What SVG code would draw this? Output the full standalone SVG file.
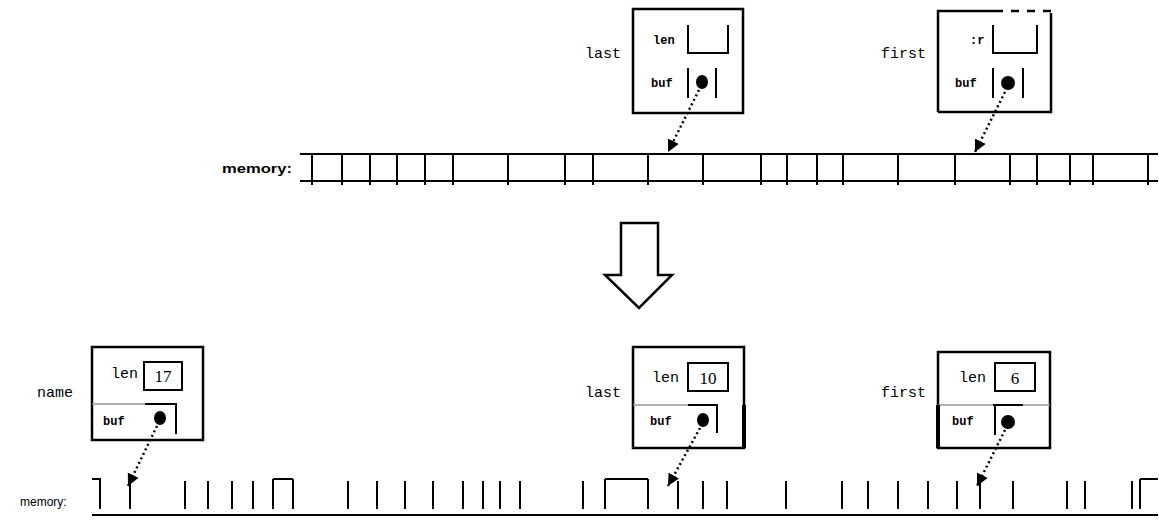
<svg xmlns="http://www.w3.org/2000/svg" width="1159" height="521" viewBox="0 0 1159 521">
<style>
.box{fill:none;stroke:#000;stroke-width:2.5}
.thin{fill:none;stroke:#000;stroke-width:2}
.grey{fill:none;stroke:#999;stroke-width:1.5}
.lbl{font-family:"Liberation Mono",monospace;font-size:15px;fill:#000}
.fld{font-family:"Liberation Mono",monospace;font-size:15px;fill:#000}
.sfld{font-family:"Liberation Mono",monospace;font-size:12px;font-weight:bold;fill:#000}
.num{font-family:"Liberation Serif",serif;font-size:17px;fill:#000}
.mem{fill:none;stroke:#000;stroke-width:2}
.ptr{fill:none;stroke:#000;stroke-width:2.5;stroke-dasharray:2 3}
</style>
<defs>
<marker id="ah" viewBox="0 0 10 10" refX="10" refY="5" markerWidth="12" markerHeight="12" markerUnits="userSpaceOnUse" orient="auto">
<path d="M0,0 L10,5 L0,10 z" fill="#000"/>
</marker>
</defs>
<rect width="1159" height="521" fill="#fff"/>

<!-- top: last -->
<g id="top-last">
<text class="lbl" x="585" y="58">last</text>
<rect class="box" x="633" y="9" width="110" height="104"/>
<text class="sfld" x="653" y="44">len</text>
<path class="thin" d="M688,25 V53 H728 V25"/>
<text class="sfld" x="651" y="87">buf</text>
<path class="thin" d="M688,68 V98 M716,68 V98"/>
<ellipse cx="702" cy="82" rx="6" ry="7" fill="#000"/>
</g>

<!-- top: first -->
<g id="top-first">
<text class="lbl" x="881" y="58">first</text>
<path class="box" d="M938,112 V11 H995"/>
<path class="box" d="M995,11 H1051" stroke-dasharray="8 8"/>
<path class="box" d="M1051,13 V112 H938"/>
<text class="sfld" x="970" y="44">:r</text>
<path class="thin" d="M993,25 V53 H1037 V25"/>
<text class="sfld" x="955" y="87">buf</text>
<path class="thin" d="M993,68 V98 M1023,68 V98"/>
<ellipse cx="1008" cy="83" rx="7" ry="7" fill="#000"/>
</g>

<!-- top memory -->
<g id="top-memory">
<text x="222" y="173" font-family="Liberation Sans, sans-serif" font-size="13" font-weight="bold" textLength="70" lengthAdjust="spacingAndGlyphs">memory:</text>
<path class="mem" d="M300,154 H1158 M300,181 H1158"/>
<path class="mem" d="M312,154V185 M342,154V185 M370,154V185 M397,154V185 M425,154V185 M453,154V185 M508,154V185 M565,154V185 M593,154V185 M648,154V185 M703,154V185 M761,154V185 M787,154V185 M817,154V185 M843,154V185 M898,154V185 M955,154V185 M1010,154V185 M1037,154V185 M1070,154V185 M1093,154V185 M1148,154V185"/>
</g>

<!-- big down arrow -->
<g id="transform-arrow">
<path d="M621,223 H658 V275 H672 L639,308 L605,275 H621 Z" fill="#fff" stroke="#000" stroke-width="2.5"/>
</g>

<!-- bottom: name -->
<g id="bot-name">
<text class="lbl" x="37" y="397">name</text>
<rect class="box" x="92" y="347" width="111" height="93"/>
<text class="fld" x="111" y="378">len</text>
<rect class="thin" x="144" y="362" width="38" height="28"/>
<text class="num" x="163" y="382" text-anchor="middle">17</text>
<path class="grey" d="M92,404 H145"/>
<path class="thin" d="M145,404 H176 V434"/>
<text class="sfld" x="103" y="425">buf</text>
<ellipse cx="160" cy="418" rx="6" ry="7" fill="#000"/>
</g>

<!-- bottom: last -->
<g id="bot-last">
<text class="lbl" x="585" y="397">last</text>
<rect class="box" x="633" y="347" width="111" height="101"/>
<text class="fld" x="652" y="382">len</text>
<rect class="thin" x="688" y="363" width="40" height="28"/>
<text class="num" x="708" y="384" text-anchor="middle">10</text>
<path class="grey" d="M633,405 H688"/>
<path class="thin" d="M688,405 H717 V433"/>
<path d="M744,405 V448" stroke="#000" stroke-width="4"/>
<text class="sfld" x="650" y="425">buf</text>
<ellipse cx="703" cy="420" rx="6" ry="7" fill="#000"/>
</g>

<!-- bottom: first -->
<g id="bot-first">
<text class="lbl" x="881" y="397">first</text>
<rect class="box" x="938" y="352" width="112" height="96"/>
<text class="fld" x="959" y="382">len</text>
<rect class="thin" x="995" y="363" width="40" height="28"/>
<text class="num" x="1015" y="384" text-anchor="middle">6</text>
<path class="grey" d="M938,405 H993 M1023,405 H1050"/>
<path class="thin" d="M993,405 H1023 M995,405 V435"/>
<path d="M938,405 V448" stroke="#000" stroke-width="4"/>
<text class="sfld" x="952" y="425">buf</text>
<ellipse cx="1008" cy="422" rx="7" ry="7" fill="#000"/>
</g>

<!-- bottom memory -->
<g id="bot-memory">
<text x="20" y="506" font-family="Liberation Sans, sans-serif" font-size="12">memory:</text>
<path class="mem" d="M92,515 H1158"/>
<path class="mem" d="M92,479 H100 V509 M273,479 H293 M273,479 V509 M293,479 V509 M605,479 H648 M605,479 V509 M648,479 V509 M1140,479 H1158 M1140,479 V509"/>
<path class="mem" d="M130,481V509 M185,481V509 M208,481V509 M232,481V509 M253,481V509 M348,481V509 M377,481V509 M405,481V509 M433,481V509 M463,481V509 M483,481V509 M500,481V509 M520,481V509 M583,481V509 M678,481V509 M703,481V509 M727,481V509 M786,481V509 M842,481V509 M868,481V509 M898,481V509 M928,481V509 M957,481V509 M980,481V509 M1013,481V509 M1067,481V509 M1085,481V509 M1132,481V509"/>
</g>

<!-- connectors -->
<g id="connectors">
<path class="ptr" d="M699,90 L668,152" marker-end="url(#ah)"/>
<path class="ptr" d="M1005,92 L975,152" marker-end="url(#ah)"/>
<path class="ptr" d="M157,426 L128,486" marker-end="url(#ah)"/>
<path class="ptr" d="M700,428 L668,486" marker-end="url(#ah)"/>
<path class="ptr" d="M1005,430 L977,486" marker-end="url(#ah)"/>
</g>
</svg>
